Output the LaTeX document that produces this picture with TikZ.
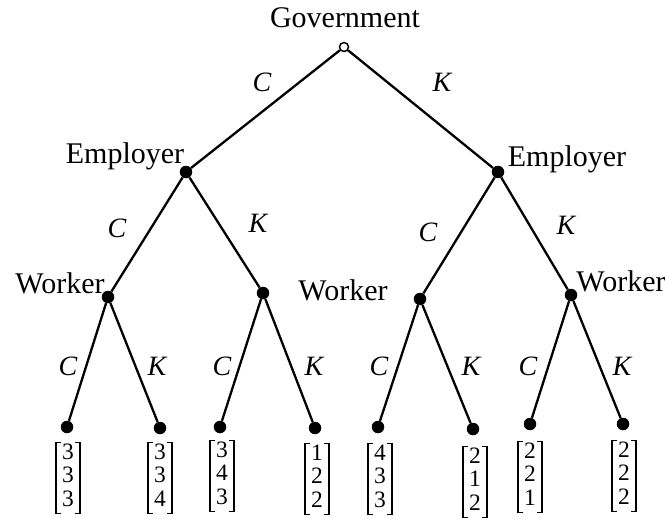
\documentclass[tikz,border=0pt]{standalone}
\usepackage{fontspec}
\setmainfont{Liberation Serif}
\begin{document}
\begin{tikzpicture}[x=1pt,y=-1pt,
  dot/.style={circle,fill=black,inner sep=0pt,minimum size=12.5pt},
  rootdot/.style={circle,draw=black,fill=white,line width=1.5pt,inner sep=0pt,minimum size=9pt},
  edge/.style={line width=2.3pt},
  player/.style={font=\fontsize{30}{36}\selectfont,inner sep=0pt,anchor=base},
  act/.style={font=\fontsize{28}{32}\selectfont\itshape,inner sep=0pt},
  pay/.style={font=\fontsize{23.5}{23.5}\selectfont,inner xsep=6pt,inner ysep=0pt},
  brk/.style={line width=1.2pt}]
\useasboundingbox (0,0) rectangle (665,519);
% decision points
\node[rootdot] (r) at (344,47) {};
\node[dot] (e1) at (186,172) {};
\node[dot] (e2) at (498,172) {};
\node[dot] (w1) at (108,297) {};
\node[dot] (w2) at (263,293) {};
\node[dot] (w3) at (420,299) {};
\node[dot] (w4) at (571,295) {};
\node[dot] (l1) at (67,427) {};
\node[dot] (l2) at (160,428) {};
\node[dot] (l3) at (220,427) {};
\node[dot] (l4) at (315,428) {};
\node[dot] (l5) at (378,427) {};
\node[dot] (l6) at (473,429) {};
\node[dot] (l7) at (530,424) {};
\node[dot] (l8) at (623,424) {};
% edges
\draw[edge] (r) -- (e1);
\draw[edge] (r) -- (e2);
\draw[edge] (e1) -- (w1);
\draw[edge] (e1) -- (w2);
\draw[edge] (e2) -- (w3);
\draw[edge] (e2) -- (w4);
\draw[edge] (w1) -- (l1);
\draw[edge] (w1) -- (l2);
\draw[edge] (w2) -- (l3);
\draw[edge] (w2) -- (l4);
\draw[edge] (w3) -- (l5);
\draw[edge] (w3) -- (l6);
\draw[edge] (w4) -- (l7);
\draw[edge] (w4) -- (l8);
% players
\node[player] (tg) at (345,28) {Government};
\node[player] (te1) at (125,164) {Employer};
\node[player] (te2) at (567,166) {Employer};
\node[player] (tw1) at (60,293) {Worker};
\node[player] (tw2) at (343,300) {Worker};
\node[player] (tw3) at (621,291) {Worker};
% actions
\node[act] (a1) at (262,82) {C};
\node[act] (a2) at (442,82) {K};
\node[act] (a3) at (117,228) {C};
\node[act] (a4) at (258,223) {K};
\node[act] (a5) at (428,232) {C};
\node[act] (a6) at (566,225) {K};
\node[act] (a7) at (68,366) {C};
\node[act] (a8) at (157,366) {K};
\node[act] (a9) at (222,366) {C};
\node[act] (a10) at (314,366) {K};
\node[act] (a11) at (379,366) {C};
\node[act] (a12) at (471,366) {K};
\node[act] (a13) at (528,366) {C};
\node[act] (a14) at (622,366) {K};
% payoffs
\node[pay] (p1) at (68,478) {\begin{tabular}{@{}c@{}}3\\3\\3\end{tabular}};
\node[pay] (p2) at (160,478) {\begin{tabular}{@{}c@{}}3\\3\\4\end{tabular}};
\node[pay] (p3) at (222,476) {\begin{tabular}{@{}c@{}}3\\4\\3\end{tabular}};
\node[pay] (p4) at (317,479) {\begin{tabular}{@{}c@{}}1\\2\\2\end{tabular}};
\node[pay] (p5) at (380,479) {\begin{tabular}{@{}c@{}}4\\3\\3\end{tabular}};
\node[pay] (p6) at (475,482) {\begin{tabular}{@{}c@{}}2\\1\\2\end{tabular}};
\node[pay] (p7) at (530,477) {\begin{tabular}{@{}c@{}}2\\2\\1\end{tabular}};
\node[pay] (p8) at (624,476) {\begin{tabular}{@{}c@{}}2\\2\\2\end{tabular}};
\foreach \p in {p1,p2,p3,p4,p5,p6,p7,p8}{
  \draw[brk] ([xshift=5pt]\p.north west) -- (\p.north west) -- (\p.south west) -- ([xshift=5pt]\p.south west);
  \draw[brk] ([xshift=-5pt]\p.north east) -- (\p.north east) -- (\p.south east) -- ([xshift=-5pt]\p.south east);
}
\end{tikzpicture}
\end{document}
